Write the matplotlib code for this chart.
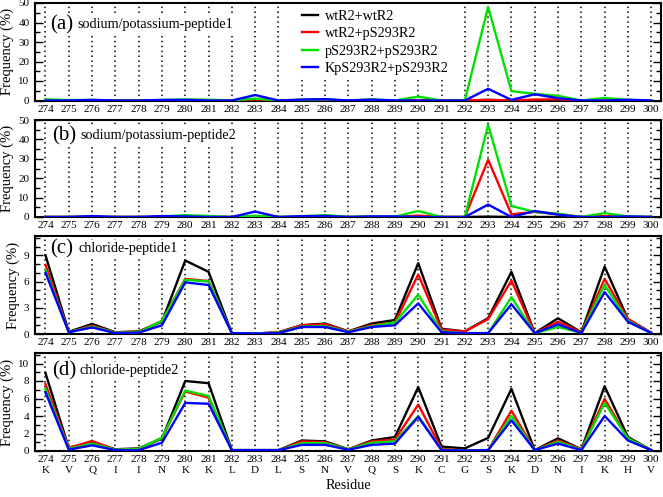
import matplotlib
matplotlib.use("Agg")
import matplotlib.pyplot as plt
from matplotlib.ticker import MultipleLocator

plt.rcParams['font.family'] = ['Liberation Serif', 'DejaVu Serif']

residues = list(range(274, 301))
aa = ["K", "V", "Q", "I", "I", "N", "K", "K", "L", "D", "L", "S", "N", "V",
      "Q", "S", "K", "C", "G", "S", "K", "D", "N", "I", "K", "H", "V"]

series_names = ["wtR2+wtR2", "wtR2+pS293R2", "pS293R2+pS293R2", "KpS293R2+pS293R2"]
series_colors = ["#000000", "#ff0000", "#00e000", "#0000ff"]

# Panel (a) sodium/potassium-peptide1
a_wt = [0.2, 0, 0, 0, 0, 0, 0, 0, 0, 0.3, 0, 0, 0, 0, 0, 0, 0, 0, 0, 0.3, 0, 0, 0, 0, 0, 0, 0]
a_wtp = [0, 0, 0, 0, 0, 0, 0.2, 0, 0, 0.6, 0, -0.3, 0, 0, 0, 0, 0.2, 0, 0, 0.3, 0, 0.5, 0.6, 0, 0.2, 0, 0]
a_pp = [0.6, 0.2, 0.3, 0, 0, 0.2, 0.6, 0.4, 0, 1.0, 0, 0.3, 0.6, 0, 0.5, 0, 2.0, 0, 0, 48.0, 4.8, 3.4, 2.4, 0, 1.3, 0.3, 0]
a_kp = [0, 0, 0.3, 0, 0, 0.3, 0.3, 0, 0, 2.8, 0, 0.5, 0.7, 0, 0.5, 0, 0, 0, 0, 6.0, 0.3, 3.2, 1.2, 0, 0, 0.4, 0]

# Panel (b) sodium/potassium-peptide2
b_wt = [0, 0, 0, 0, 0, 0, 0, 0, 0, 0, 0, 0, 0, 0, 0, 0, 0, 0, 0, 0.2, 0, 0, 0, 0, 0, 0, 0]
b_wtp = [0, 0, 0, 0, 0, -0.3, 0, 0, 0, 0.3, -0.3, 0, 0, 0, 0, 0, 0.7, 0, 0, 29.5, 1.4, 2.6, 1.5, 0, 0.5, 0, 0]
b_pp = [0, 0, 0.2, 0, 0, 0.2, 1.0, 0.5, 0, 0.6, 0, 0.4, 1.0, 0, 0.3, 0.2, 3.1, 0, 0, 47.5, 5.7, 2.6, 1.7, 0, 2.0, 0.3, 0]
b_kp = [0, 0, 0.5, 0, 0, 0.5, 0.3, 0, 0, 2.8, 0, 0.4, 0.5, 0, 0.3, 0.3, 0, 0, 0, 6.4, 0, 3.1, 1.2, 0, 0, 0.3, 0]

# Panel (c) chloride-peptide1
c_wt = [9.0, 0.25, 1.15, 0.2, 0.3, 1.4, 8.4, 7.1, 0.1, 0.05, 0.2, 1.0, 1.2, 0.3, 1.2, 1.6, 8.1, 0.6, 0.3, 1.8, 7.1, 0.1, 1.8, 0.2, 7.7, 1.7, 0.15]
c_wtp = [7.9, 0.2, 0.95, 0.2, 0.25, 1.5, 6.3, 6.05, 0.1, 0.05, 0.2, 1.0, 1.1, 0.3, 1.0, 1.3, 6.8, 0.5, 0.3, 1.7, 6.1, 0.1, 1.4, 0.2, 6.3, 1.7, 0.15]
c_pp = [7.3, 0.2, 0.85, 0.15, 0.2, 1.5, 6.2, 6.0, 0.1, 0.05, 0.15, 0.85, 0.9, 0.25, 0.9, 1.3, 4.5, 0.3, 0.1, 0.1, 4.2, 0.1, 0.8, 0.15, 5.6, 1.5, 0.1]
c_kp = [7.0, 0.2, 0.75, 0.1, 0.15, 1.0, 5.9, 5.6, 0.1, 0.05, 0.1, 0.8, 0.8, 0.2, 0.8, 1.0, 3.5, 0.2, 0.1, 0.1, 3.4, 0.1, 1.1, 0.1, 4.8, 1.4, 0.1]

# Panel (d) chloride-peptide2
d_wt = [8.9, 0.35, 1.0, 0.2, 0.3, 1.4, 8.0, 7.75, 0.1, 0.1, 0.1, 1.2, 1.1, 0.2, 1.2, 1.6, 7.3, 0.5, 0.3, 1.5, 7.1, 0.1, 1.45, 0.2, 7.4, 1.6, 0.1]
d_wtp = [7.65, 0.35, 1.15, 0.15, 0.25, 1.5, 6.8, 6.1, 0.1, 0.1, 0.1, 1.1, 1.0, 0.2, 1.1, 1.3, 5.3, 0.25, 0.05, 0.1, 4.6, 0.1, 1.2, 0.2, 5.95, 1.45, 0.1]
d_pp = [7.1, 0.25, 0.85, 0.15, 0.25, 1.5, 6.9, 6.3, 0.1, 0.1, 0.1, 0.9, 0.9, 0.2, 0.95, 1.1, 4.0, 0.15, 0.05, 0.1, 4.0, 0.1, 1.05, 0.15, 5.5, 1.45, 0.1]
d_kp = [6.7, 0.15, 0.65, 0.1, 0.1, 0.95, 5.5, 5.4, 0.1, 0.1, 0.1, 0.7, 0.7, 0.15, 0.7, 0.85, 3.9, 0.1, 0.05, 0.1, 3.5, 0.1, 0.85, 0.1, 4.0, 1.2, 0.1]

panels = [
    ("(a)", "sodium/potassium-peptide1", [a_wt, a_wtp, a_pp, a_kp], 50, 10, 5),
    ("(b)", "sodium/potassium-peptide2", [b_wt, b_wtp, b_pp, b_kp], 50, 10, 5),
    ("(c)", "chloride-peptide1", [c_wt, c_wtp, c_pp, c_kp], 11.2, 3, 1),
    ("(d)", "chloride-peptide2", [d_wt, d_wtp, d_pp, d_kp], 11.2, 2, 1),
]
label_y = [0.78, 0.84, 0.87, 0.82]
label_x = [0.024, 0.027, 0.024, 0.027]
title_x = [0.067, 0.073, 0.069, 0.071]

W, H = 663, 497
fig = plt.figure(figsize=(W / 100, H / 100), dpi=100)
tops = [3, 120, 236, 353]
bottoms = [100.5, 217, 334, 451]
left_px, right_px = 35, 661
white_box = dict(facecolor="white", edgecolor="none", pad=1.5)

for i, (tag, title, data, ymax, major, minor) in enumerate(panels):
    ax = fig.add_axes([left_px / W, 1 - bottoms[i] / H,
                       (right_px - left_px) / W, (bottoms[i] - tops[i]) / H])
    for x in residues:
        ax.axvline(x, color="black", linestyle=(0, (1, 2.2)), linewidth=1.1, zorder=1)
    for name, col, vals in zip(series_names, series_colors, data):
        ax.plot(residues, vals, color=col, linewidth=1.7, label=name, zorder=3)
    ax.set_xlim(273.55, 300.42)
    ax.set_ylim(0, ymax)
    ax.yaxis.set_major_locator(MultipleLocator(major))
    ax.yaxis.set_minor_locator(MultipleLocator(minor))
    ax.set_xticks(residues)
    if i == 3:
        ax.set_xticklabels([f"{r}\n{a}" for r, a in zip(residues, aa)], fontsize=8,
                           linespacing=1.2)
    else:
        ax.set_xticklabels([str(r) for r in residues], fontsize=8)
    ax.tick_params(axis="x", length=0, pad=3)
    ax.tick_params(axis="y", which="both", direction="in", right=True, labelsize=8, pad=4)
    ax.tick_params(axis="y", which="major", length=6, width=1)
    ax.tick_params(axis="y", which="minor", length=3.5, width=1)
    for s in ax.spines.values():
        s.set_linewidth(1.5)
    ax.set_ylabel("Frequency (%)", fontsize=10.5, labelpad=3)
    ax.text(label_x[i], label_y[i], tag, transform=ax.transAxes, fontsize=15, va="center",
            ha="left", zorder=5, bbox=white_box)
    ax.text(title_x[i], label_y[i], title, transform=ax.transAxes, fontsize=10.2,
            va="center", ha="left", zorder=5, bbox=white_box)
    if i == 0:
        leg = ax.legend(loc="upper left", bbox_to_anchor=(0.42, 0.97), frameon=True,
                        fontsize=10.2, handlelength=1.1, handletextpad=0.5, labelspacing=0.3,
                        borderaxespad=0, borderpad=0.3, fancybox=False)
        leg.get_frame().set_facecolor("white")
        leg.get_frame().set_edgecolor("none")
        leg.get_frame().set_alpha(1)
    if i == 3:
        ax.set_xlabel("Residue", fontsize=10.2, labelpad=3)

fig.savefig("out.png", dpi=100)
